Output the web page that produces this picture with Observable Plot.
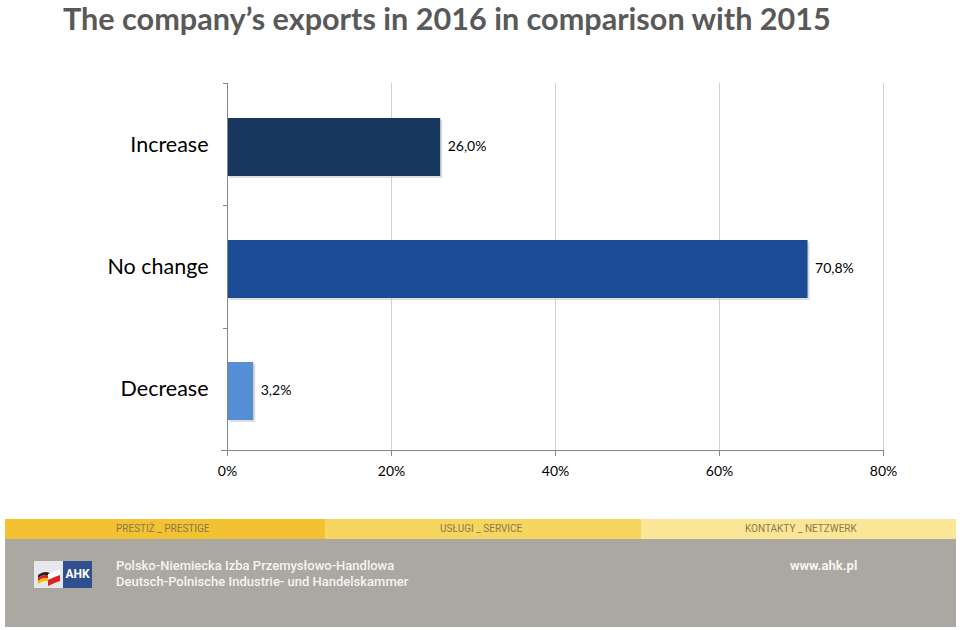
<!DOCTYPE html>
<html>
<head>
<meta charset="utf-8">
<script src="https://cdn.jsdelivr.net/npm/d3@7"></script>
<script src="https://cdn.jsdelivr.net/npm/@observablehq/plot@0.6"></script>
<style>
  html, body { margin: 0; padding: 0; background: #fff; }
  #page { position: relative; width: 960px; height: 630px; overflow: hidden; background: #fff; }
  #title { position: absolute; left: 63px; top: 0px; font-family: Lato, sans-serif; font-weight: bold; font-size: 30.6px; line-height: 37px; color: #595959; white-space: nowrap; }
  #chart { position: absolute; left: 0; top: 60px; }
  .band { position: absolute; top: 519px; height: 20px; font-family: Roboto, sans-serif; font-size: 10px; line-height: 20px; color: #8a7a4a; white-space: nowrap; }
  #gray { position: absolute; left: 5px; top: 539px; width: 951px; height: 88px; background: #aba8a1; }
  .ftxt { position: absolute; font-family: Roboto, sans-serif; font-weight: 500; font-size: 13px; color: #f4f4f2; white-space: nowrap; }
  #logo { position: absolute; left: 34px; top: 561px; width: 58px; height: 27px; background: #e6e8ee; }
  #logo .blue { position: absolute; left: 29px; top: 0; width: 29px; height: 27px; background: #2f4f8f; color: #fff; font-family: Roboto, sans-serif; font-weight: bold; font-size: 12px; line-height: 27px; text-align: center; }
</style>
</head>
<body>
<div id="page">
  <div id="title">The company’s exports in 2016 in comparison with 2015</div>
  <div id="chart"></div>
  <div class="band" style="left:5px;width:320px;background:#f2c232;"><span style="position:absolute;left:111px;">PRESTIŻ _ PRESTIGE</span></div>
  <div class="band" style="left:325px;width:316px;background:#f6d660;"><span style="position:absolute;left:115px;">USŁUGI _ SERVICE</span></div>
  <div class="band" style="left:641px;width:315px;background:#fbe698;"><span style="position:absolute;left:104px;">KONTAKTY _ NETZWERK</span></div>
  <div id="gray"></div>
  <div id="logo">
    <svg width="29" height="27" style="position:absolute;left:0;top:0">
      <path d="M4 14 Q10 9 16 12 L16 15 Q10 12 4 17 Z" fill="#222"/>
      <path d="M4 17 Q10 12 16 15 L16 18 Q10 15 4 20 Z" fill="#d22"/>
      <path d="M4 20 Q10 15 16 18 L16 21 Q10 18 4 23 Z" fill="#f2c200"/>
      <path d="M14 13 Q20 10 26 8 L26 14 Q20 16 14 19 Z" fill="#fff"/>
      <path d="M14 19 Q20 16 26 14 L26 20 Q20 22 14 25 Z" fill="#d22"/>
    </svg>
    <div class="blue">AHK</div>
  </div>
  <div class="ftxt" style="left:116px;top:558px;">Polsko-Niemiecka Izba Przemysłowo-Handlowa</div>
  <div class="ftxt" style="left:116px;top:574px;">Deutsch-Polnische Industrie- und Handelskammer</div>
  <div class="ftxt" style="left:790px;top:558px;font-weight:bold;font-size:13px;">www.ahk.pl</div>
</div>
<script>
const categories = ["Increase", "No change", "Decrease"];
const values = [26.0, 70.8, 3.2];
const colors = ["#17375e", "#1c4b96", "#558ed5"];
const xTicks = [0, 20, 40, 60, 80];
const gridTicks = [20, 40, 60, 80];

const data = categories.map((c, i) => ({category: c, value: values[i]}));
const fmt = v => d3.format(".1f")(v).replace(".", ",") + "%";

function axisFrame(index, scales, vals, dims) {
  const g = d3.create("svg:g").attr("stroke", "#868686").attr("fill", "none").attr("shape-rendering", "crispEdges");
  const top = dims.marginTop;
  const bottom = dims.height - dims.marginBottom;
  const x0 = scales.x(0) + 0.5;
  const yb = bottom + 0.5;
  g.append("line").attr("x1", x0 - 7).attr("x2", scales.x(xTicks[xTicks.length - 1]) + 0.5).attr("y1", yb).attr("y2", yb);
  g.append("line").attr("x1", x0).attr("x2", x0).attr("y1", top).attr("y2", yb);
  for (const t of xTicks) {
    const xx = scales.x(t) + 0.5;
    g.append("line").attr("x1", xx).attr("x2", xx).attr("y1", yb).attr("y2", yb + 5);
  }
  const n = categories.length;
  for (let i = 0; i <= n; i++) {
    const yy = Math.round(top + i * (bottom - top) / n) + 0.5;
    g.append("line").attr("x1", x0 - 5).attr("x2", x0).attr("y1", yy).attr("y2", yy);
  }
  return g.node();
}

const chart = Plot.plot({
  width: 960,
  height: 430,
  marginLeft: 227,
  marginRight: 77,
  marginTop: 23,
  marginBottom: 40,
  style: {fontFamily: "Lato, sans-serif", background: "transparent", color: "#000", overflow: "visible"},
  x: {domain: [0, 80]},
  y: {domain: categories, padding: 0},
  color: {domain: categories, range: colors},
  marks: [
    Plot.ruleX(gridTicks, {stroke: "#c6d2e0", strokeWidth: 1}),
    Plot.barX(data, {x: "value", y: "category", fill: "#c8c8c8", fillOpacity: 0.6, insetTop: 34, insetBottom: 30, dx: 2, dy: 2}),
    Plot.barX(data, {x: "value", y: "category", fill: "category", insetTop: 34, insetBottom: 30}),
    axisFrame,
    Plot.axisX({ticks: xTicks, tickFormat: d => d + "%", tickSize: 0, tickPadding: 16, fontSize: 14, label: null}),
    Plot.axisY({tickSize: 0, tickPadding: 19, fontSize: 21.5, label: null}),
    Plot.text(data, {x: "value", y: "category", text: d => fmt(d.value), textAnchor: "start", dx: 7, dy: 1, fontSize: 14, fill: "#000"})
  ]
});
document.getElementById("chart").appendChild(chart);
</script>
</body>
</html>
